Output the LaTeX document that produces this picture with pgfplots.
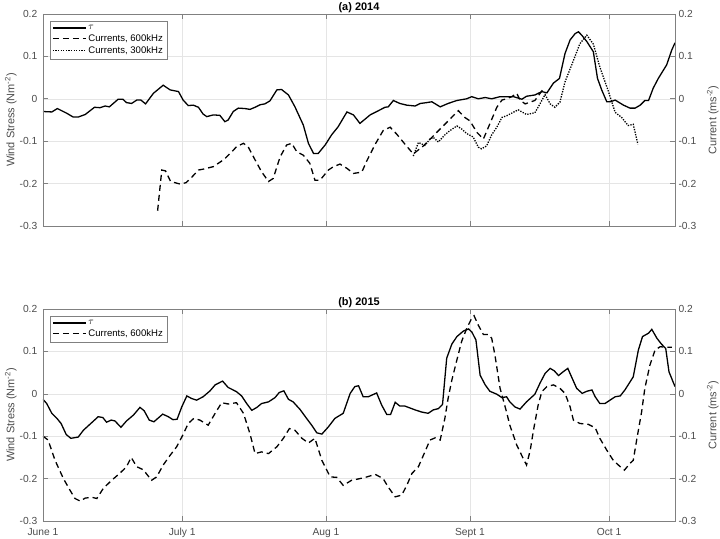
\documentclass[border=0pt]{standalone}
\usepackage{fontspec}
\setmainfont{Liberation Sans}
\usepackage{pgfplots}
\pgfplotsset{compat=1.18}
\definecolor{axcol}{gray}{0.5}
\definecolor{lblcol}{gray}{0.3}
\pgfplotsset{
  panel/.style={
    scale only axis, width=632bp, height=212bp,
    xmin=0, xmax=136.2, ymin=-0.3, ymax=0.2,
    xtick={0,30,61,92,122},
    ytick={-0.3,-0.2,-0.1,0,0.1,0.2},
    yticklabels={{-0.3},{-0.2},{-0.1},{0},{0.1},{0.2}},
    grid=major, major grid style={gray!20, line width=0.5pt},
    axis line style={axcol, line width=0.6pt},
    tick style={axcol, line width=0.6pt},
    major tick length=5bp,
    tick label style={text=lblcol, font=\fontsize{10.3}{12}\selectfont},
    xticklabel style={inner sep=1pt, yshift=-6bp},
    yticklabel style={inner sep=0.5pt, xshift=-5bp},
    ytick pos=left,
    ylabel={Wind Stress (Nm\textsuperscript{-2})},
    ylabel style={text=lblcol, font=\fontsize{11}{12}\selectfont, yshift=-1bp},
    title style={font=\bfseries\fontsize{11}{12}\selectfont, inner sep=0.5pt, yshift=-5.5pt},
    legend cell align=left,
    legend style={at={(0.011,0.967)}, anchor=north west, draw=axcol, fill=white,
      font=\fontsize{9.6}{11}\selectfont, inner sep=2pt, row sep=-0.5pt},
    legend image code/.code={\draw[#1] (0bp,0bp) -- (33bp,0bp);},
  },
  rpanel/.style={
    scale only axis, width=632bp, height=212bp,
    xmin=0, xmax=136.2, ymin=-0.3, ymax=0.2,
    hide x axis,
    ytick={-0.3,-0.2,-0.1,0,0.1,0.2},
    yticklabels={{-0.3},{-0.2},{-0.1},{0},{0.1},{0.2}},
    ytick pos=right, yticklabel pos=right,
    axis line style={axcol, line width=0.6pt},
    tick style={axcol, line width=0.6pt},
    major tick length=5bp,
    tick label style={text=lblcol, font=\fontsize{10.3}{12}\selectfont},
    ylabel={Current (ms\textsuperscript{-2})},
    ylabel style={text=lblcol, font=\fontsize{11}{12}\selectfont, yshift=-4bp},
  },
  tau/.style={black, line width=1.3pt},
  c600/.style={black, line width=1.3pt, dash pattern=on 6bp off 4bp},
  c300/.style={black, line width=1.3pt, dash pattern=on 1.3bp off 1.3bp},
}
\begin{document}
\begin{tikzpicture}
\useasboundingbox (0,0) rectangle (720bp,539bp);
% ---------------- (a) 2014 ----------------
\begin{axis}[panel, at={(43bp,313bp)}, anchor=south west, title={(a) 2014}, xticklabels={}]
\addplot[tau] coordinates {
(0.0,-0.030) (1.9,-0.031) (3.1,-0.023) (5.1,-0.034) (6.5,-0.043) (7.6,-0.043) (9.1,-0.037)
(11.1,-0.020) (12.3,-0.021) (13.4,-0.017) (14.3,-0.019) (16.2,-0.001) (17.2,-0.001) (18.0,-0.009)
(19.1,-0.011) (20.2,-0.003) (21.1,-0.003) (22.1,-0.012) (23.8,0.013) (25.9,0.032) (27.4,0.021)
(29.2,0.017) (30.2,-0.003) (31.3,-0.016) (32.4,-0.015) (33.5,-0.020) (34.5,-0.036) (35.3,-0.042)
(36.7,-0.038) (38.1,-0.039) (39.2,-0.054) (39.9,-0.050) (41.0,-0.030) (42.1,-0.022) (43.5,-0.023)
(44.6,-0.025) (45.7,-0.020) (46.8,-0.014) (47.8,-0.012) (48.9,-0.005) (50.4,0.021) (51.4,0.022)
(52.9,0.009) (54.3,-0.019) (56.1,-0.062) (57.2,-0.105) (58.3,-0.129) (59.3,-0.129) (60.8,-0.109)
(62.2,-0.085) (63.6,-0.066) (65.5,-0.031) (66.9,-0.038) (68.3,-0.058) (70.5,-0.038) (72.3,-0.028)
(73.7,-0.020) (74.4,-0.019) (75.5,-0.004) (76.9,-0.011) (78.4,-0.015) (80.2,-0.017) (81.3,-0.011)
(82.7,-0.009) (83.8,-0.007) (85.6,-0.019) (87.3,-0.011) (89.2,-0.004) (91.3,0.000) (92.4,0.005)
(93.8,0.000) (95.3,0.003) (96.7,0.000) (98.5,0.005) (99.9,0.005) (101.4,0.005) (103.2,-0.001)
(104.2,0.006) (106.0,0.009) (107.5,0.017) (108.6,0.014) (110.0,0.037) (111.3,0.048) (112.5,0.107)
(113.6,0.139) (114.7,0.154) (115.4,0.158) (116.1,0.150) (117.2,0.135) (118.6,0.111) (119.5,0.048)
(120.4,0.021) (121.5,-0.007) (122.3,-0.007) (123.3,-0.003) (125.1,-0.015) (126.5,-0.022)
(127.6,-0.022) (128.7,-0.015) (129.7,-0.004) (130.5,-0.004) (131.5,0.025) (132.6,0.048)
(134.4,0.080) (135.5,0.115) (136.2,0.132)
};
\addlegendentry{$\tau$}
\addplot[c600] coordinates {
(24.7,-0.264) (25.6,-0.168) (26.4,-0.170) (27.5,-0.195) (29.5,-0.201) (30.8,-0.198) (31.8,-0.188)
(33.5,-0.168) (34.5,-0.166) (36.7,-0.160) (38.9,-0.144) (40.7,-0.125) (41.7,-0.113) (43.2,-0.105)
(44.2,-0.113) (45.7,-0.144) (47.1,-0.172) (48.6,-0.195) (49.6,-0.188) (51.1,-0.137) (52.5,-0.109)
(53.6,-0.105) (54.7,-0.125) (56.1,-0.133) (57.5,-0.152) (58.6,-0.192) (59.7,-0.192) (61.5,-0.168)
(62.6,-0.160) (64.0,-0.154) (65.5,-0.164) (66.9,-0.176) (68.7,-0.173) (69.8,-0.146) (71.6,-0.107)
(73.3,-0.075) (74.8,-0.067) (76.2,-0.083) (78.0,-0.107) (79.8,-0.130) (82.0,-0.111) (83.8,-0.091)
(85.6,-0.071) (87.7,-0.048) (89.5,-0.028) (90.9,-0.044) (92.0,-0.052) (93.5,-0.079) (94.9,-0.095)
(96.3,-0.059) (97.8,-0.020) (98.9,-0.003) (99.9,0.000) (101.0,0.005) (102.1,0.013) (102.8,-0.003)
(103.9,-0.012) (106.0,-0.004) (107.8,0.023)
};
\addlegendentry{Currents, 600kHz}
\addplot[c300] coordinates {
(79.8,-0.135) (80.9,-0.103) (82.3,-0.110) (83.4,-0.095) (84.1,-0.091) (85.2,-0.102) (86.6,-0.085)
(87.7,-0.075) (89.2,-0.064) (90.2,-0.071) (91.3,-0.082) (92.7,-0.090) (93.8,-0.114) (94.5,-0.118)
(95.6,-0.111) (96.7,-0.085) (97.8,-0.067) (98.9,-0.044) (99.9,-0.040) (102.4,-0.026) (104.2,-0.037)
(106.0,-0.033) (107.1,-0.012) (108.2,0.010) (109.3,-0.012) (110.3,-0.020) (111.4,-0.008)
(112.5,0.040) (114.3,0.090) (115.7,0.130) (117.2,0.150) (118.6,0.129) (120.0,0.075) (121.8,0.019)
(123.3,-0.032) (124.7,-0.044) (126.1,-0.063) (127.2,-0.060) (128.2,-0.107)
};
\addlegendentry{Currents, 300kHz}
\end{axis}
\begin{axis}[rpanel, at={(43bp,313bp)}, anchor=south west]
\end{axis}
% ---------------- (b) 2015 ----------------
\begin{axis}[panel, at={(43bp,18bp)}, anchor=south west, title={(b) 2015},
  xticklabels={June 1, July 1, Aug 1, Sept 1, Oct 1}]
\addplot[tau] coordinates {
(0.0,-0.013) (0.8,-0.023) (1.9,-0.046) (3.0,-0.058) (3.9,-0.070) (5.0,-0.096) (6.0,-0.105)
(7.6,-0.102) (8.7,-0.086) (10.1,-0.072) (11.9,-0.054) (12.9,-0.056) (13.7,-0.067) (14.7,-0.062)
(15.5,-0.064) (16.8,-0.079) (18.0,-0.064) (19.5,-0.050) (20.9,-0.032) (21.8,-0.040) (22.9,-0.062)
(23.9,-0.066) (25.8,-0.048) (27.0,-0.054) (28.0,-0.061) (28.9,-0.060) (29.9,-0.031) (31.0,-0.005)
(32.0,-0.011) (33.1,-0.015) (34.5,-0.007) (36.0,0.007) (37.1,0.021) (38.7,0.030) (39.9,0.015)
(41.7,0.005) (42.8,-0.005) (43.9,-0.023) (45.0,-0.039) (46.1,-0.032) (47.1,-0.023) (48.6,-0.019)
(50.0,-0.009) (50.9,0.003) (51.9,0.007) (52.9,-0.013) (53.9,-0.019) (55.4,-0.037) (56.8,-0.058)
(57.9,-0.074) (59.0,-0.092) (60.1,-0.095) (61.5,-0.078) (62.9,-0.058) (64.7,-0.046) (66.2,0.001)
(67.2,0.017) (68.0,0.019) (69.0,-0.007) (70.1,-0.007) (71.9,0.002) (73.0,-0.027) (74.1,-0.049)
(74.9,-0.049) (75.9,-0.020) (76.9,-0.029) (78.0,-0.029) (80.2,-0.038) (81.6,-0.043) (83.0,-0.046)
(84.1,-0.038) (85.2,-0.035) (86.1,-0.025) (87.0,0.084) (88.1,0.117) (89.2,0.135) (90.6,0.148)
(91.7,0.153) (92.4,0.146) (93.3,0.127) (94.2,0.044) (95.3,0.021) (96.3,0.006) (97.8,-0.001)
(98.9,-0.009) (99.9,-0.007) (100.6,-0.019) (101.7,-0.031) (102.8,-0.036) (104.2,-0.019)
(106.0,-0.001) (107.1,0.025) (108.2,0.048) (109.3,0.060) (110.2,0.054) (111.1,0.043) (112.1,0.052)
(113.1,0.060) (113.9,0.040) (115.0,0.013) (116.2,0.001) (117.2,0.006) (118.3,0.009) (119.0,-0.007)
(120.0,-0.023) (121.1,-0.023) (122.2,-0.015) (123.3,-0.007) (124.4,-0.005) (125.4,0.009)
(126.1,0.021) (127.2,0.040) (128.3,0.103) (129.2,0.135) (130.5,0.143) (131.2,0.152) (132.3,0.131)
(133.3,0.117) (134.2,0.107) (134.9,0.052) (136.2,0.017)
};
\addlegendentry{$\tau$}
\addplot[c600] coordinates {
(0.0,-0.100) (1.1,-0.109) (2.6,-0.157) (4.4,-0.200) (5.8,-0.227) (6.9,-0.247) (8.0,-0.253)
(9.1,-0.246) (10.5,-0.244) (11.6,-0.247) (13.0,-0.223) (14.8,-0.204) (16.6,-0.187) (18.0,-0.172)
(19.0,-0.150) (20.2,-0.172) (21.6,-0.179) (23.4,-0.204) (24.5,-0.196) (25.9,-0.168) (27.4,-0.145)
(28.8,-0.125) (30.1,-0.098) (31.3,-0.070) (32.5,-0.058) (33.8,-0.062) (35.6,-0.074) (37.1,-0.046)
(38.5,-0.021) (39.9,-0.024) (41.7,-0.021) (43.2,-0.046) (44.6,-0.094) (45.7,-0.141) (47.1,-0.137)
(48.6,-0.141) (50.4,-0.125) (51.8,-0.105) (53.1,-0.082) (54.3,-0.086) (55.8,-0.105) (57.2,-0.116)
(58.6,-0.105) (60.1,-0.157) (61.9,-0.196) (63.3,-0.197) (64.7,-0.216) (66.5,-0.204) (68.3,-0.200)
(69.8,-0.196) (71.6,-0.190) (73.3,-0.200) (74.4,-0.220) (75.9,-0.243) (77.3,-0.239) (78.4,-0.216)
(79.5,-0.188) (80.9,-0.172) (82.3,-0.137) (83.4,-0.109) (84.5,-0.104) (85.6,-0.109) (86.6,-0.058)
(87.3,-0.011) (88.1,0.032) (89.2,0.080) (90.2,0.123) (91.3,0.154) (92.2,0.174) (92.9,0.184)
(93.8,0.162) (94.9,0.140) (96.0,0.140) (96.7,0.131) (97.4,0.091) (98.5,0.013) (99.9,-0.043)
(100.6,-0.074) (102.1,-0.121) (103.5,-0.153) (104.2,-0.168) (105.0,-0.133) (105.7,-0.086)
(106.7,-0.027) (107.5,0.005) (108.6,0.017) (110.0,0.021) (111.4,0.013) (112.5,0.001) (113.6,-0.031)
(114.3,-0.062) (115.7,-0.070) (117.5,-0.072) (119.0,-0.080) (120.0,-0.105) (121.5,-0.133)
(122.9,-0.157) (124.4,-0.172) (125.3,-0.180) (126.5,-0.164) (127.2,-0.157) (128.0,-0.105)
(129.0,-0.043) (129.7,0.013) (130.8,0.068) (131.9,0.103) (133.0,0.111) (134.1,0.110) (135.5,0.110)
};
\addlegendentry{Currents, 600kHz}
\end{axis}
\begin{axis}[rpanel, at={(43bp,18bp)}, anchor=south west]
\end{axis}
\end{tikzpicture}
\end{document}
